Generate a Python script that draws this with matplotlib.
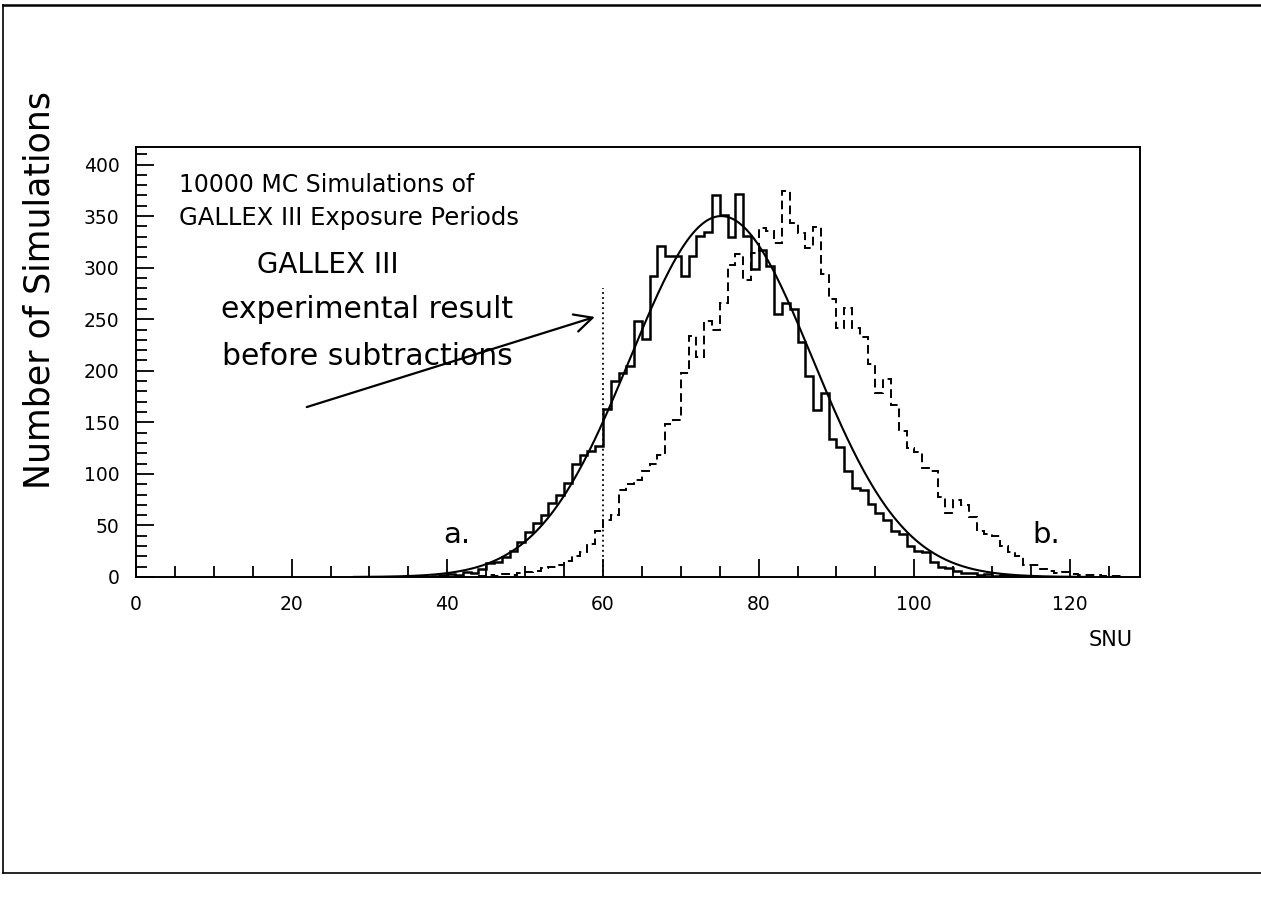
import numpy as np
import matplotlib
matplotlib.use("Agg")
from matplotlib import pyplot as plt
from matplotlib.lines import Line2D
from matplotlib.ticker import MultipleLocator

# histogram a. (solid): counts per 1-SNU bin, first bin starts at a_start
a_start = 36
a_counts = [1, 0, 1, 2, 3, 2, 5, 4, 8, 14,
            15, 19, 25, 34, 44, 52, 60, 72, 80, 91,
            110, 118, 122, 127, 163, 190, 198, 205, 248, 231,
            292, 321, 311, 311, 292, 311, 331, 335, 370, 351,
            330, 371, 331, 299, 317, 302, 255, 266, 260, 228,
            195, 162, 178, 134, 126, 103, 86, 84, 71, 62,
            55, 45, 42, 30, 25, 24, 15, 10, 9, 6,
            4, 4, 2, 3, 1, 2, 1, 0]

# histogram b. (dashed)
b_start = 44
b_counts = [1, 2, 1, 3, 2, 4, 5, 6, 9, 10,
            12, 16, 20, 24, 32, 45, 55, 60, 84, 90,
            94, 103, 110, 118, 148, 152, 198, 234, 213, 248,
            240, 266, 303, 313, 288, 314, 338, 336, 324, 374,
            343, 334, 319, 339, 294, 270, 241, 261, 241, 233,
            207, 178, 192, 167, 142, 125, 121, 106, 103, 78,
            62, 75, 70, 58, 45, 42, 40, 30, 24, 20,
            12, 12, 8, 6, 4, 5, 3, 2, 2, 2, 1, 1, 1]

# gaussian fit to a.
fit_amp, fit_mean, fit_sigma = 350.0, 75.2, 11.7
exp_result = 60  # SNU

a_edges = np.arange(a_start, a_start + len(a_counts) + 1)
b_edges = np.arange(b_start, b_start + len(b_counts) + 1)
xf = np.linspace(28, 122, 400)
yf = fit_amp * np.exp(-(xf - fit_mean) ** 2 / (2 * fit_sigma ** 2))

W, H = 1261, 905
fig = plt.figure(figsize=(W / 100, H / 100), dpi=100)
ax = fig.add_axes([136 / W, 1 - 577 / H, (1140 - 136) / W, (577 - 147) / H])

ax.stairs(a_counts, a_edges, color='black', lw=1.8, baseline=None)
ax.stairs(b_counts, b_edges, color='black', lw=1.4, linestyle=(0, (4.5, 2.5)), baseline=None)
ax.plot(xf, yf, color='black', lw=1.5)
ax.plot([exp_result, exp_result], [0, 280], color='black', lw=1.3, linestyle=(0, (1, 1.8)))

ax.annotate('', xy=(59.3, 253), xytext=(21.6, 164),
            arrowprops=dict(arrowstyle='->', lw=1.6, color='black', mutation_scale=32))

ax.set_xlim(0, 129)
ax.set_ylim(0, 417)
ax.xaxis.set_major_locator(MultipleLocator(20))
ax.xaxis.set_minor_locator(MultipleLocator(5))
ax.yaxis.set_major_locator(MultipleLocator(50))
ax.yaxis.set_minor_locator(MultipleLocator(10))
ax.tick_params(which='both', direction='in', top=False, right=False, labelsize=13.5, width=1.3)
ax.tick_params(which='major', length=13)
ax.tick_params(which='minor', length=8)
ax.tick_params(axis='x', pad=13)
ax.tick_params(axis='y', pad=12)
for s in ax.spines.values():
    s.set_linewidth(1.4)

ax.text(5.5, 380, '10000 MC Simulations of', fontsize=17, va='center', ha='left')
ax.text(5.5, 348, 'GALLEX III Exposure Periods', fontsize=17.5, va='center', ha='left')
ax.text(24.6, 303, 'GALLEX III', fontsize=20, va='center', ha='center')
ax.text(29.7, 259, 'experimental result', fontsize=21.5, va='center', ha='center')
ax.text(29.7, 214, 'before subtractions', fontsize=21.5, va='center', ha='center')
ax.text(41.2, 41, 'a.', fontsize=21, va='center', ha='center')
ax.text(116.9, 41, 'b.', fontsize=21, va='center', ha='center')

fig.text(40 / W, 1 - 290 / H, 'Number of Simulations', rotation=90, fontsize=25,
         va='center', ha='center')
fig.text(1111 / W, 1 - 640 / H, 'SNU', fontsize=15, va='center', ha='center')

# outer frame
x0, x1 = 3 / W, 1.0
y0, y1 = 1 - 873 / H, 1 - 5 / H
fig.add_artist(Line2D([x0, x1], [y1, y1], color='black', lw=1.8))
fig.add_artist(Line2D([x0, x0], [y0, y1], color='black', lw=1.2))
fig.add_artist(Line2D([x0, x1], [y0, y0], color='black', lw=1.2))

fig.savefig('out.png', dpi=100)
